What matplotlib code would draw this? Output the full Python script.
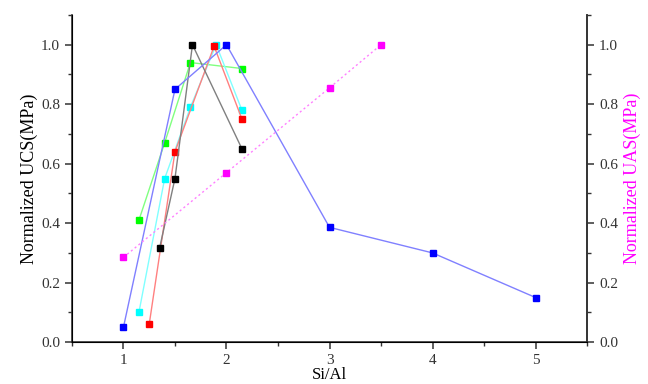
import matplotlib
matplotlib.use("Agg")
import matplotlib.pyplot as plt
from matplotlib.ticker import MultipleLocator, FormatStrFormatter

plt.rcParams["font.family"] = ["Liberation Serif", "DejaVu Serif"]

# UCS series (left axis)
blue_x = [1.0, 1.5, 2.0, 3.0, 4.0, 5.0]
blue_y = [0.05, 0.85, 1.0, 0.386, 0.30, 0.15]
black_x = [1.35, 1.5, 1.67, 2.15]
black_y = [0.315, 0.55, 1.0, 0.65]
red_x = [1.25, 1.5, 1.88, 2.15]
red_y = [0.06, 0.64, 0.995, 0.75]
cyan_x = [1.15, 1.4, 1.65, 1.9, 2.15]
cyan_y = [0.10, 0.55, 0.79, 1.0, 0.78]
green_x = [1.15, 1.4, 1.65, 2.15]
green_y = [0.41, 0.67, 0.94, 0.92]

# UAS series (right axis)
uas_x = [1.0, 2.0, 3.0, 3.5]
uas_y = [0.285, 0.57, 0.855, 1.0]

fig = plt.figure(figsize=(6.48, 3.84), dpi=100)
ax = fig.add_axes([0.111, 0.109, 0.795, 0.852])

series = [
    (green_x, green_y, "#80ff80", "#00ff00"),
    (cyan_x, cyan_y, "#80ffff", "#00ffff"),
    (red_x, red_y, "#ff8080", "#ff0000"),
    (black_x, black_y, "#808080", "#000000"),
    (blue_x, blue_y, "#8080ff", "#0000ff"),
]
for xs, ys, lc, mc in series:
    ax.plot(xs, ys, color=lc, linewidth=1.0)
    ax.plot(xs, ys, linestyle="none", marker="s", markersize=5,
            markerfacecolor=mc, markeredgecolor=mc)

ax.set_xlim(0.5, 5.5)
ax.set_ylim(0, 1.1)
ax.xaxis.set_major_locator(MultipleLocator(1))
ax.xaxis.set_minor_locator(MultipleLocator(0.5))
ax.yaxis.set_major_locator(MultipleLocator(0.2))
ax.yaxis.set_minor_locator(MultipleLocator(0.1))
ax.yaxis.set_major_formatter(FormatStrFormatter("%.1f"))
ax.spines["top"].set_visible(False)
for s in ["left", "bottom", "right"]:
    ax.spines[s].set_color("#333333")
    ax.spines[s].set_linewidth(1.2)
ax.tick_params(which="major", direction="out", length=5, width=1.1,
               colors="#333333", labelsize=11)
ax.tick_params(which="minor", direction="out", length=3, width=1.0,
               colors="#333333")
ax.set_xlabel("Si/Al", fontsize=12, labelpad=0)
ax.set_ylabel("Normalized UCS(MPa)", fontsize=13, labelpad=2)

ax2 = ax.twinx()
ax2.plot(uas_x, uas_y, color="#ff80ff", linewidth=1.0, linestyle=(0, (1.5, 2)))
ax2.plot(uas_x, uas_y, linestyle="none", marker="s", markersize=5,
         markerfacecolor="#ff00ff", markeredgecolor="#ff00ff")
ax2.set_ylim(0, 1.1)
ax2.yaxis.set_major_locator(MultipleLocator(0.2))
ax2.yaxis.set_minor_locator(MultipleLocator(0.1))
ax2.yaxis.set_major_formatter(FormatStrFormatter("%.1f"))
ax2.spines["top"].set_visible(False)
ax2.spines["right"].set_color("#333333")
ax2.spines["right"].set_linewidth(1.2)
ax2.tick_params(which="major", direction="out", length=5, width=1.1,
                colors="#333333", labelsize=11)
ax2.tick_params(which="minor", direction="out", length=3, width=1.0,
                colors="#333333")
ax2.set_ylabel("Normalized UAS(MPa)", fontsize=13, color="#ff00ff", labelpad=4)

fig.savefig("out.png", dpi=100)
